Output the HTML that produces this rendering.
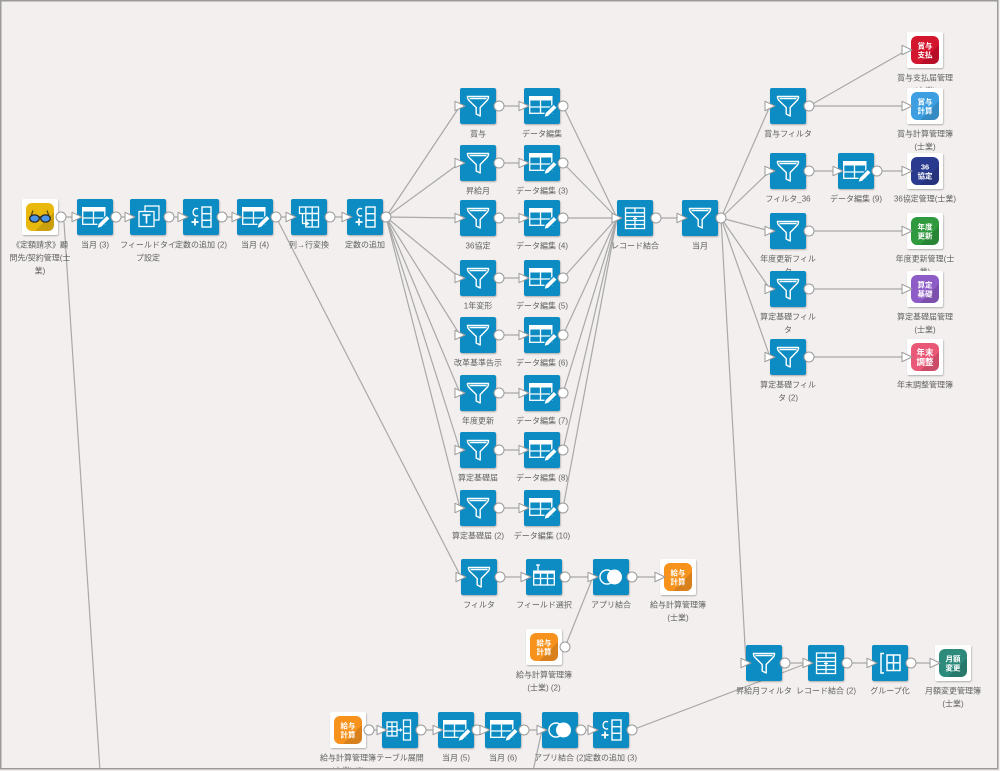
<!DOCTYPE html>
<html><head><meta charset="utf-8"><style>
html,body{margin:0;padding:0;background:#f2efee;}
svg{display:block;}
text{font-family:"Liberation Sans","Noto Sans CJK JP",sans-serif;}
.l text{font-size:8px;fill:#626262;text-anchor:middle;}
.it{font-size:7.5px;fill:#fff;font-weight:bold;text-anchor:middle;}
</style></head><body>
<svg width="1000" height="771" viewBox="0 0 1000 771" xmlns="http://www.w3.org/2000/svg">
<defs>
<filter id="sh" x="-20%" y="-20%" width="140%" height="140%"><feDropShadow dx="0.6" dy="1" stdDeviation="0.8" flood-color="#000" flood-opacity="0.28"/></filter>
<clipPath id="fr"><rect x="1.5" y="1.5" width="995.5" height="766.5"/></clipPath>
<rect id="bx" width="36" height="36" rx="2" fill="#078cc3"/>
<circle id="po" r="5" fill="#fff" stroke="#9a9a9a" stroke-width="1"/>
<polygon id="pi" points="-5,-4.7 5,0 -5,4.7" fill="#fff" stroke="#9a9a9a" stroke-width="1" stroke-linejoin="round"/>
<g id="n-filter"><use href="#bx"/><path d="M7.5 8.5 H28.5 Q28.8 10.5 27 12.5 L20.2 19.5 V28 L16.2 26 V19.5 L9 12.5 Q7.2 10.5 7.5 8.5 Z M9.5 10.6 H26.5" fill="none" stroke="#fff" stroke-width="1.4" stroke-linejoin="round"/></g>
<g id="n-edit"><use href="#bx"/><rect x="5" y="8" width="23.5" height="4.5" fill="#fff"/><g fill="none" stroke="#fff" stroke-width="1.3"><rect x="5.7" y="8.7" width="22.1" height="16.6"/><line x1="5.7" y1="19" x2="27.8" y2="19"/><line x1="16.5" y1="12.5" x2="16.5" y2="25.3"/></g><path d="M20 29.5 L21.2 24.8 L29.8 16.2 L33.2 19.6 L24.6 28.2 Z" fill="#fff" stroke="#078cc3" stroke-width="1.1" stroke-linejoin="round"/></g>
<g id="n-ftype"><use href="#bx"/><g fill="none" stroke="#fff" stroke-width="1.3"><rect x="15" y="7" width="14" height="14"/></g><rect x="9" y="12.5" width="15" height="15" fill="#078cc3" stroke="#fff" stroke-width="1.3"/><g stroke="#fff" stroke-width="1.6"><line x1="12.5" y1="16" x2="20.5" y2="16"/><line x1="16.5" y1="16" x2="16.5" y2="24.5"/></g></g>
<g id="n-const"><use href="#bx"/><g fill="none" stroke="#fff" stroke-width="1.4"><path d="M15 10 A3.2 3.8 0 1 0 15 16.5"/><line x1="8.5" y1="23" x2="15.5" y2="23" stroke-width="1.8"/><line x1="12" y1="19.5" x2="12" y2="26.5" stroke-width="1.8"/><rect x="19" y="8" width="9" height="20"/><line x1="19" y1="14.7" x2="28" y2="14.7"/><line x1="19" y1="21.3" x2="28" y2="21.3"/></g></g>
<g id="n-pivot"><use href="#bx"/><g fill="none" stroke="#fff" stroke-width="1.3"><rect x="8.5" y="8" width="19" height="6.5"/><line x1="14.8" y1="8" x2="14.8" y2="14.5"/><line x1="21.2" y1="8" x2="21.2" y2="14.5"/><rect x="14.8" y="14.5" width="12.7" height="13.5"/><line x1="21.2" y1="14.5" x2="21.2" y2="28"/><line x1="14.8" y1="21.2" x2="27.5" y2="21.2"/><path d="M11.5 15 V24.5 H16"/></g><path d="M15.5 22.3 L18.5 24.5 L15.5 26.7 Z" fill="#fff"/></g>
<g id="n-rjoin"><use href="#bx"/><g fill="none" stroke="#fff" stroke-width="1.3"><rect x="8.5" y="8" width="19" height="20.5"/><line x1="8.5" y1="12.8" x2="27.5" y2="12.8"/><line x1="8.5" y1="16.5" x2="27.5" y2="16.5"/><line x1="8.5" y1="20.5" x2="27.5" y2="20.5"/><line x1="8.5" y1="24.5" x2="27.5" y2="24.5"/><line x1="18" y1="8" x2="18" y2="12.8"/><line x1="18" y1="20.5" x2="18" y2="28.5"/></g><g stroke="#fff" stroke-width="1.2"><line x1="16" y1="18.5" x2="20" y2="18.5"/><line x1="18" y1="16.5" x2="18" y2="20.5"/></g></g>
<g id="n-ajoin"><use href="#bx"/><circle cx="14" cy="18" r="7" fill="none" stroke="#fff" stroke-width="1.4"/><circle cx="21.5" cy="18" r="7.5" fill="#fff"/></g>
<g id="n-fsel"><use href="#bx"/><rect x="7" y="11.5" width="22" height="3.2" fill="#fff"/><g fill="none" stroke="#fff" stroke-width="1.3"><rect x="7.7" y="12.2" width="20.6" height="13.8"/><line x1="7.7" y1="19.5" x2="28.3" y2="19.5"/><line x1="14.5" y1="14.5" x2="14.5" y2="26"/><line x1="21.5" y1="14.5" x2="21.5" y2="26"/><line x1="12" y1="6" x2="12" y2="11.5"/><line x1="10" y1="6" x2="14" y2="6"/></g></g>
<g id="n-expand"><use href="#bx"/><g fill="none" stroke="#fff" stroke-width="1.3"><rect x="5" y="10" width="10" height="14"/><line x1="10" y1="10" x2="10" y2="24"/><line x1="5" y1="14.7" x2="15" y2="14.7"/><line x1="5" y1="19.3" x2="15" y2="19.3"/><line x1="15" y1="18" x2="19" y2="18"/><rect x="21.5" y="8" width="7" height="20"/><line x1="21.5" y1="14.7" x2="28.5" y2="14.7"/><line x1="21.5" y1="21.3" x2="28.5" y2="21.3"/></g><path d="M18 16 L20.5 18 L18 20 Z" fill="#fff"/></g>
<g id="n-group"><use href="#bx"/><g fill="none" stroke="#fff" stroke-width="1.5"><path d="M12 8.5 H9 V28 H12"/><rect x="15" y="10" width="13" height="15.5"/><line x1="21.5" y1="10" x2="21.5" y2="25.5"/><line x1="15" y1="17.8" x2="28" y2="17.8"/></g></g>
<g id="w"><rect width="36" height="36" rx="2" fill="#fff"/></g>
<path id="lsh" d="M32 13 L32 26 Q32 32 26 32 L13 32 Z" fill="#000" opacity="0.13"/>
</defs>
<rect x="0" y="0" width="1000" height="771" fill="#f2efee"/>
<g clip-path="url(#fr)">
<g stroke="#a9a9a9" stroke-width="1.2" fill="none">
<path d="M61 217 L77 217 M116 217 L130 217 M169 217 L183 217 M222 217 L237 217 M276 217 L291 217 M330 217 L347 217"/>
<path d="M64 222 L100 771"/>
<path d="M276 217 L461 577"/>
<path d="M386 217 L460 106 M386 217 L460 163 M386 217 L460 218 M386 217 L460 278 M386 217 L460 335 M386 217 L460 393 M386 217 L460 450 M386 217 L460 508"/>
<path d="M499 106 L524 106 M499 163 L524 163 M499 218 L524 218 M499 278 L524 278 M499 335 L524 335 M499 393 L524 393 M499 450 L524 450 M499 508 L524 508"/>
<path d="M563 106 L617 218 M563 163 L617 218 M563 218 L617 218 M563 278 L617 218 M563 335 L617 218 M563 393 L617 218 M563 450 L617 218 M563 508 L617 218"/>
<path d="M656 218 L682 218"/>
<path d="M721 218 L770 106 M721 218 L770 171 M721 218 L770 231 M721 218 L770 289 M721 218 L770 357 M721 218 L746 663"/>
<path d="M809 106 L907 50 M809 106 L907 106 M809 171 L838 171 M877 171 L907 171 M809 231 L907 231 M809 289 L907 289 M809 357 L907 357"/>
<path d="M500 577 L526 577 M565 577 L593 577 M632 577 L660 577 M565 647 L593 577"/>
<path d="M369 730 L382 730 M421 730 L438 730 M477 730 L485 730 M524 730 L542 730 M581 730 L593 730 M533 771 L542 730"/>
<path d="M632 730 L808 663 M785 663 L808 663 M847 663 L872 663 M911 663 L935 663"/>
</g>
<g class="l">
<text x="40" y="247.5">《定額請求》顧</text><text x="40" y="260.5">問先/契約管理(士</text><text x="40" y="273.5">業)</text>
<text x="95" y="247.5">当月 (3)</text>
<text x="148" y="247.5">フィールドタイ</text><text x="148" y="260.5">プ設定</text>
<text x="201" y="247.5">定数の追加 (2)</text>
<text x="255" y="247.5">当月 (4)</text>
<text x="309" y="247.5">列→行変換</text>
<text x="365" y="247.5">定数の追加</text>

<text x="478" y="136.5">賞与</text><text x="542" y="136.5">データ編集</text>
<text x="478" y="193.5">昇給月</text><text x="542" y="193.5">データ編集 (3)</text>
<text x="478" y="248.5">36協定</text><text x="542" y="248.5">データ編集 (4)</text>
<text x="478" y="308.5">1年変形</text><text x="542" y="308.5">データ編集 (5)</text>
<text x="478" y="365.5">改革基準告示</text><text x="542" y="365.5">データ編集 (6)</text>
<text x="478" y="423.5">年度更新</text><text x="542" y="423.5">データ編集 (7)</text>
<text x="478" y="480.5">算定基礎届</text><text x="542" y="480.5">データ編集 (8)</text>
<text x="478" y="538.5">算定基礎届 (2)</text><text x="542" y="538.5">データ編集 (10)</text>

<text x="635" y="248.5">レコード結合</text>
<text x="700" y="248.5">当月</text>

<text x="788" y="136.5">賞与フィルタ</text>
<text x="788" y="201.5">フィルタ_36</text>
<text x="788" y="261.5">年度更新フィル</text><text x="788" y="274.5">タ</text>
<text x="788" y="319.5">算定基礎フィル</text><text x="788" y="332.5">タ</text>
<text x="788" y="387.5">算定基礎フィル</text><text x="788" y="400.5">タ (2)</text>
<text x="856" y="201.5">データ編集 (9)</text>

<text x="925" y="80.5">賞与支払届管理</text><text x="925" y="93.5">(士業)</text>
<text x="925" y="136.5">賞与計算管理簿</text><text x="925" y="149.5">(士業)</text>
<text x="925" y="201.5">36協定管理(士業)</text>
<text x="925" y="261.5">年度更新管理(士</text><text x="925" y="274.5">業)</text>
<text x="925" y="319.5">算定基礎届管理</text><text x="925" y="332.5">(士業)</text>
<text x="925" y="387.5">年末調整管理簿</text>

<text x="479" y="607.5">フィルタ</text>
<text x="544" y="607.5">フィールド選択</text>
<text x="611" y="607.5">アプリ結合</text>
<text x="678" y="607.5">給与計算管理簿</text><text x="678" y="620.5">(士業)</text>
<text x="544" y="677.5">給与計算管理簿</text><text x="544" y="690.5">(士業) (2)</text>

<text x="764" y="693.5">昇給月フィルタ</text>
<text x="826" y="693.5">レコード結合 (2)</text>
<text x="890" y="693.5">グループ化</text>
<text x="953" y="693.5">月額変更管理簿</text><text x="953" y="706.5">(士業)</text>

<text x="348" y="760.5">給与計算管理簿</text><text x="348" y="773.5">(士業) (2)</text>
<text x="400" y="760.5">テーブル展開</text>
<text x="456" y="760.5">当月 (5)</text>
<text x="503" y="760.5">当月 (6)</text>
<text x="560" y="760.5">アプリ結合 (2)</text>
<text x="611" y="760.5">定数の追加 (3)</text>
</g>
<g filter="url(#sh)">
<g transform="translate(22,199)"><use href="#w"/><rect x="4" y="4" width="28" height="28" rx="6" fill="#e9b80e"/><use href="#lsh"/>
<path d="M9 17 L11 11.5 M27 17 L25 11.5" stroke="#5a4a10" stroke-width="1.2" fill="none"/>
<ellipse cx="12.5" cy="19.5" rx="4.8" ry="3.6" fill="#4d93e6" stroke="#2b2b2b" stroke-width="1.3"/>
<ellipse cx="23.5" cy="19.5" rx="4.8" ry="3.6" fill="#4d93e6" stroke="#2b2b2b" stroke-width="1.3"/>
<path d="M17.3 18.5 Q18 17.3 18.7 18.5" stroke="#2b2b2b" stroke-width="1.3" fill="none"/></g>
<use href="#n-edit" x="77" y="199"/>
<use href="#n-ftype" x="130" y="199"/>
<use href="#n-const" x="183" y="199"/>
<use href="#n-edit" x="237" y="199"/>
<use href="#n-pivot" x="291" y="199"/>
<use href="#n-const" x="347" y="199"/>

<use href="#n-filter" x="460" y="88"/><use href="#n-edit" x="524" y="88"/>
<use href="#n-filter" x="460" y="145"/><use href="#n-edit" x="524" y="145"/>
<use href="#n-filter" x="460" y="200"/><use href="#n-edit" x="524" y="200"/>
<use href="#n-filter" x="460" y="260"/><use href="#n-edit" x="524" y="260"/>
<use href="#n-filter" x="460" y="317"/><use href="#n-edit" x="524" y="317"/>
<use href="#n-filter" x="460" y="375"/><use href="#n-edit" x="524" y="375"/>
<use href="#n-filter" x="460" y="432"/><use href="#n-edit" x="524" y="432"/>
<use href="#n-filter" x="460" y="490"/><use href="#n-edit" x="524" y="490"/>

<use href="#n-rjoin" x="617" y="200"/>
<use href="#n-filter" x="682" y="200"/>

<use href="#n-filter" x="770" y="88"/>
<use href="#n-filter" x="770" y="153"/>
<use href="#n-edit" x="838" y="153"/>
<use href="#n-filter" x="770" y="213"/>
<use href="#n-filter" x="770" y="271"/>
<use href="#n-filter" x="770" y="339"/>

<g transform="translate(907,32)"><use href="#w"/><rect x="4" y="4" width="28" height="28" rx="6" fill="#d3132d"/><use href="#lsh"/><text class="it" x="18" y="16.5">賞与</text><text class="it" x="18" y="25.5">支払</text></g>
<g transform="translate(907,88)"><use href="#w"/><rect x="4" y="4" width="28" height="28" rx="6" fill="#3d9fe2"/><use href="#lsh"/><text class="it" x="18" y="16.5">賞与</text><text class="it" x="18" y="25.5">計算</text></g>
<g transform="translate(907,153)"><use href="#w"/><rect x="4" y="4" width="28" height="28" rx="6" fill="#2b3b8f"/><use href="#lsh"/><text class="it" x="18" y="16.5">36</text><text class="it" x="18" y="25.5">協定</text></g>
<g transform="translate(907,213)"><use href="#w"/><rect x="4" y="4" width="28" height="28" rx="6" fill="#2f9a3c"/><use href="#lsh"/><text class="it" x="18" y="16.5">年度</text><text class="it" x="18" y="25.5">更新</text></g>
<g transform="translate(907,271)"><use href="#w"/><rect x="4" y="4" width="28" height="28" rx="6" fill="#8e5cc6"/><use href="#lsh"/><text class="it" x="18" y="16.5">算定</text><text class="it" x="18" y="25.5">基礎</text></g>
<g transform="translate(907,339)"><use href="#w"/><rect x="4" y="4" width="28" height="28" rx="6" fill="#ea5877"/><use href="#lsh"/><text class="it" x="18" y="16.5" style="font-size:8.5px">年末</text><text class="it" x="18" y="26" style="font-size:8.5px">調整</text></g>

<use href="#n-filter" x="461" y="559"/>
<use href="#n-fsel" x="526" y="559"/>
<use href="#n-ajoin" x="593" y="559"/>
<g transform="translate(660,559)"><use href="#w"/><rect x="4" y="4" width="28" height="28" rx="6" fill="#f7931e"/><use href="#lsh"/><text class="it" x="18" y="16.5">給与</text><text class="it" x="18" y="25.5">計算</text></g>
<g transform="translate(526,629)"><use href="#w"/><rect x="4" y="4" width="28" height="28" rx="6" fill="#f7931e"/><use href="#lsh"/><text class="it" x="18" y="16.5">給与</text><text class="it" x="18" y="25.5">計算</text></g>

<g transform="translate(330,712)"><use href="#w"/><rect x="4" y="4" width="28" height="28" rx="6" fill="#f7931e"/><use href="#lsh"/><text class="it" x="18" y="16.5">給与</text><text class="it" x="18" y="25.5">計算</text></g>
<use href="#n-expand" x="382" y="712"/>
<use href="#n-edit" x="438" y="712"/>
<use href="#n-edit" x="485" y="712"/>
<use href="#n-ajoin" x="542" y="712"/>
<use href="#n-const" x="593" y="712"/>

<use href="#n-filter" x="746" y="645"/>
<use href="#n-rjoin" x="808" y="645"/>
<use href="#n-group" x="872" y="645"/>
<g transform="translate(935,645)"><use href="#w"/><rect x="4" y="4" width="28" height="28" rx="6" fill="#2f8b7b"/><use href="#lsh"/><text class="it" x="18" y="16.5">月額</text><text class="it" x="18" y="25.5">変更</text></g>
</g>
<g>
<use href="#po" x="61" y="217"/>
<use href="#pi" x="77" y="217"/><use href="#po" x="116" y="217"/>
<use href="#pi" x="130" y="217"/><use href="#po" x="169" y="217"/>
<use href="#pi" x="183" y="217"/><use href="#po" x="222" y="217"/>
<use href="#pi" x="237" y="217"/><use href="#po" x="276" y="217"/>
<use href="#pi" x="291" y="217"/><use href="#po" x="330" y="217"/>
<use href="#pi" x="347" y="217"/><use href="#po" x="386" y="217"/>

<use href="#pi" x="460" y="106"/><use href="#po" x="499" y="106"/><use href="#pi" x="524" y="106"/><use href="#po" x="563" y="106"/>
<use href="#pi" x="460" y="163"/><use href="#po" x="499" y="163"/><use href="#pi" x="524" y="163"/><use href="#po" x="563" y="163"/>
<use href="#pi" x="460" y="218"/><use href="#po" x="499" y="218"/><use href="#pi" x="524" y="218"/><use href="#po" x="563" y="218"/>
<use href="#pi" x="460" y="278"/><use href="#po" x="499" y="278"/><use href="#pi" x="524" y="278"/><use href="#po" x="563" y="278"/>
<use href="#pi" x="460" y="335"/><use href="#po" x="499" y="335"/><use href="#pi" x="524" y="335"/><use href="#po" x="563" y="335"/>
<use href="#pi" x="460" y="393"/><use href="#po" x="499" y="393"/><use href="#pi" x="524" y="393"/><use href="#po" x="563" y="393"/>
<use href="#pi" x="460" y="450"/><use href="#po" x="499" y="450"/><use href="#pi" x="524" y="450"/><use href="#po" x="563" y="450"/>
<use href="#pi" x="460" y="508"/><use href="#po" x="499" y="508"/><use href="#pi" x="524" y="508"/><use href="#po" x="563" y="508"/>

<use href="#pi" x="617" y="218"/><use href="#po" x="656" y="218"/>
<use href="#pi" x="682" y="218"/><use href="#po" x="721" y="218"/>

<use href="#pi" x="770" y="106"/><use href="#po" x="809" y="106"/>
<use href="#pi" x="770" y="171"/><use href="#po" x="809" y="171"/>
<use href="#pi" x="838" y="171"/><use href="#po" x="877" y="171"/>
<use href="#pi" x="770" y="231"/><use href="#po" x="809" y="231"/>
<use href="#pi" x="770" y="289"/><use href="#po" x="809" y="289"/>
<use href="#pi" x="770" y="357"/><use href="#po" x="809" y="357"/>
<use href="#pi" x="907" y="50"/><use href="#pi" x="907" y="106"/><use href="#pi" x="907" y="171"/>
<use href="#pi" x="907" y="231"/><use href="#pi" x="907" y="289"/><use href="#pi" x="907" y="357"/>

<use href="#pi" x="461" y="577"/><use href="#po" x="500" y="577"/>
<use href="#pi" x="526" y="577"/><use href="#po" x="565" y="577"/>
<use href="#pi" x="593" y="577"/><use href="#po" x="632" y="577"/>
<use href="#pi" x="660" y="577"/>
<use href="#po" x="565" y="647"/>

<use href="#po" x="369" y="730"/>
<use href="#pi" x="382" y="730"/><use href="#po" x="421" y="730"/>
<use href="#pi" x="438" y="730"/><use href="#po" x="477" y="730"/>
<use href="#pi" x="485" y="730"/><use href="#po" x="524" y="730"/>
<use href="#pi" x="542" y="730"/><use href="#po" x="581" y="730"/>
<use href="#pi" x="593" y="730"/><use href="#po" x="632" y="730"/>

<use href="#pi" x="746" y="663"/><use href="#po" x="785" y="663"/>
<use href="#pi" x="808" y="663"/><use href="#po" x="847" y="663"/>
<use href="#pi" x="872" y="663"/><use href="#po" x="911" y="663"/>
<use href="#pi" x="935" y="663"/>
</g>
</g>
<rect x="0.75" y="0.75" width="997" height="768" fill="none" stroke="#9b9b9b" stroke-width="1.5"/>
</svg>
</body></html>
